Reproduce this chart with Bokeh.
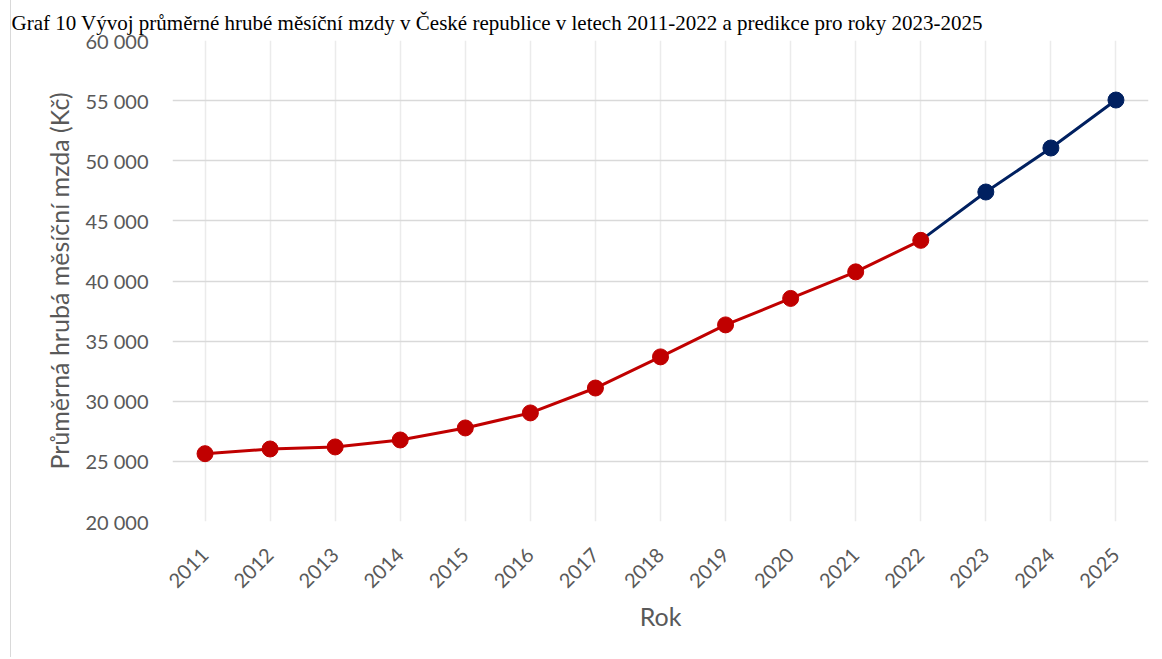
from bokeh.plotting import figure
from bokeh.models import Range1d, FixedTicker
from bokeh.embed import file_html
from bokeh.resources import INLINE

# ---- data ----
roky_skutecnost = [2011, 2012, 2013, 2014, 2015, 2016, 2017, 2018, 2019, 2020, 2021, 2022]
mzda_skutecnost = [25640, 26030, 26200, 26780, 27780, 29030, 31100, 33690, 36350, 38550, 40760, 43380]
roky_predikce = [2022, 2023, 2024, 2025]
mzda_predikce = [43380, 47400, 51060, 55050]
x_ticks = [2011, 2012, 2013, 2014, 2015, 2016, 2017, 2018, 2019, 2020, 2021, 2022, 2023, 2024, 2025]
y_ticks = [20000, 25000, 30000, 35000, 40000, 45000, 50000, 55000, 60000]
y_tick_labels = ["20 000", "25 000", "30 000", "35 000", "40 000", "45 000", "50 000", "55 000", "60 000"]
title_text = ("Graf 10 Vývoj průměrné hrubé měsíční mzdy v České republice "
              "v letech 2011-2022 a predikce pro roky 2023-2025")

RED = "#C00000"
BLUE = "#002060"
GREY = "#595959"
FONT = "Lato"

p = figure(width=1150, height=657, output_backend="svg", toolbar_location=None,
           x_range=Range1d(2010.5, 2025.5), y_range=Range1d(20000, 60000),
           min_border_left=161, min_border_right=13, min_border_top=40, min_border_bottom=136)
p.styles = {"margin-left": "10px", "border-left": "1px solid #D9D9D9"}

p.title.text = title_text
p.title.text_font = "Liberation Serif"
p.title.text_font_size = "21px"
p.title.text_font_style = "normal"
p.title.text_color = "black"
p.title.align = "left"
p.title.offset = -161
p.title.standoff = 12

p.outline_line_color = None
p.background_fill_color = "white"
p.border_fill_color = "white"

# axes
p.xaxis.ticker = FixedTicker(ticks=x_ticks)
p.yaxis.ticker = FixedTicker(ticks=y_ticks)
p.yaxis.major_label_overrides = {t: l for t, l in zip(y_ticks, y_tick_labels)}
for ax in (p.xaxis, p.yaxis):
    ax.axis_line_color = None
    ax.major_tick_line_color = None
    ax.minor_tick_line_color = None
    ax.major_label_text_font = FONT
    ax.major_label_text_font_size = "20px"
    ax.major_label_text_color = GREY
    ax.axis_label_text_font = FONT
    ax.axis_label_text_font_size = "25px"
    ax.axis_label_text_font_style = "normal"
    ax.axis_label_text_color = GREY

p.xaxis.major_label_orientation = 0.785398
p.xaxis.major_label_standoff = 24
p.xaxis.axis_label = "Rok"
p.xaxis.axis_label_standoff = 4
p.yaxis.major_label_standoff = 18
p.yaxis.axis_label = "Průměrná hrubá měsíční mzda (Kč)"
p.yaxis.axis_label_standoff = 8

p.ygrid.grid_line_color = "#D9D9D9"
p.ygrid.grid_line_width = 1.5
p.xgrid.grid_line_color = "#EBEBEB"
p.xgrid.grid_line_width = 1.5

# series
p.line(roky_predikce, mzda_predikce, line_color=BLUE, line_width=3)
p.scatter(roky_predikce[1:], mzda_predikce[1:], size=16, fill_color=BLUE, line_color=BLUE)
p.line(roky_skutecnost, mzda_skutecnost, line_color=RED, line_width=3)
p.scatter(roky_skutecnost, mzda_skutecnost, size=16, fill_color=RED, line_color=RED)

open("out.html", "w").write(file_html(p, INLINE))
